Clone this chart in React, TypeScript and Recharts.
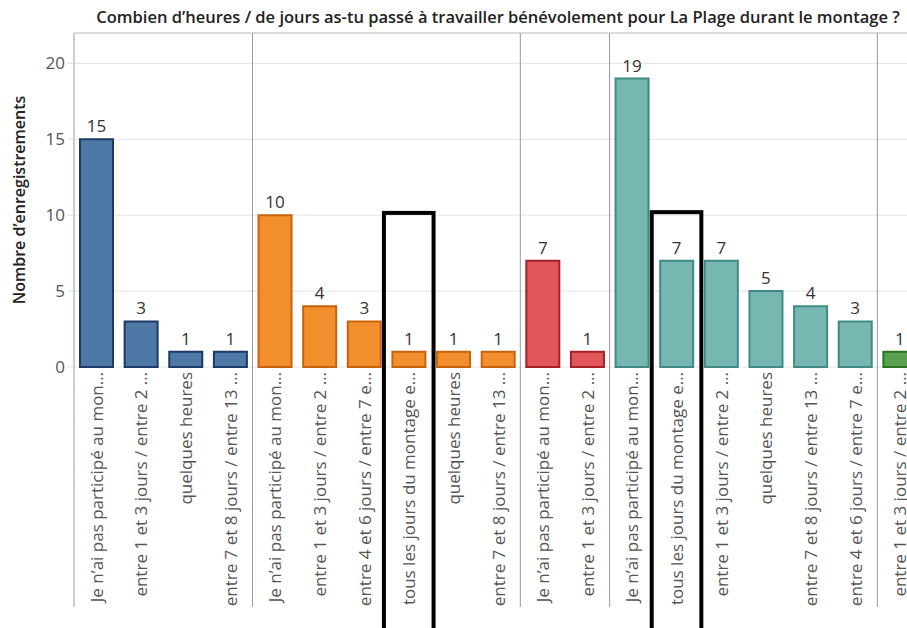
import React from 'react';
import {
  BarChart,
  Bar,
  XAxis,
  YAxis,
  CartesianGrid,
  Cell,
  LabelList,
  ReferenceLine,
  ReferenceArea,
} from 'recharts';

const FONT = "'Open Sans', 'DejaVu Sans', sans-serif";

const labels = [
  'Je n’ai pas participé au mon…',
  'entre 1 et 3 jours / entre 2 …',
  'quelques heures',
  'entre 7 et 8 jours / entre 13 …',
  'Je n’ai pas participé au mon…',
  'entre 1 et 3 jours / entre 2 …',
  'entre 4 et 6 jours / entre 7 e…',
  'tous les jours du montage e…',
  'quelques heures',
  'entre 7 et 8 jours / entre 13 …',
  'Je n’ai pas participé au mon…',
  'entre 1 et 3 jours / entre 2 …',
  'Je n’ai pas participé au mon…',
  'tous les jours du montage e…',
  'entre 1 et 3 jours / entre 2 …',
  'quelques heures',
  'entre 7 et 8 jours / entre 13 …',
  'entre 4 et 6 jours / entre 7 e…',
  'entre 1 et 3 jours / entre 2 …',
];

const values = [15, 3, 1, 1, 10, 4, 3, 1, 1, 1, 7, 1, 19, 7, 7, 5, 4, 3, 1];

const groups = [0, 0, 0, 0, 1, 1, 1, 1, 1, 1, 2, 2, 3, 3, 3, 3, 3, 3, 4];

const groupFills = ['#4e79a7', '#f28e2b', '#e15759', '#76b7b2', '#59a14f'];
const groupStrokes = ['#1d3a66', '#c8630d', '#a52029', '#3f8a84', '#2c7326'];

const yTicks = [0, 5, 10, 15, 20];

const highlightIdx = [7, 13];
const highlightTop = [10.15, 10.2];

const TITLE =
  'Combien d’heures / de jours as-tu passé à travailler bénévolement pour La Plage durant le montage ?';
const Y_LABEL = 'Nombre d’enregistrements';

const data = labels.map((label, i) => ({
  key: `c${i}`,
  label,
  value: values[i],
  group: groups[i],
}));

const groupStarts = data
  .filter((d, i) => i === 0 || groups[i] !== groups[i - 1])
  .map((d) => d.key);

const XTick = (props: any) => {
  const { x, y, payload } = props;
  const idx = Number(String(payload.value).slice(1));
  const text = labels[idx];
  return (
    <text
      x={x}
      y={y}
      transform={`rotate(-90 ${x} ${y})`}
      textAnchor="end"
      dominantBaseline="central"
      fontSize={17}
      fontFamily={FONT}
      fill="#555"
    >
      {text}
    </text>
  );
};

const SeparatorShape = (props: any) => {
  const { x1, y1, x2, y2 } = props;
  const top = Math.min(y1, y2);
  const bottom = Math.max(y1, y2) + 240;
  return <line x1={x1} x2={x2} y1={top} y2={bottom} stroke="#9a9a9a" strokeWidth={1} />;
};

const HighlightShape = (props: any) => {
  const { x, y, width, height } = props;
  return (
    <rect
      x={x - 2.5}
      y={y}
      width={width + 5}
      height={height}
      fill="none"
      stroke="#000"
      strokeWidth={4}
    />
  );
};

export default function App() {
  return (
    <div
      style={{
        position: 'absolute',
        left: 0,
        top: 0,
        width: 907,
        height: 628,
        overflow: 'hidden',
        background: '#fff',
      }}
    >
      <div
        style={{
          position: 'absolute',
          left: 0,
          top: 6,
          width: 996,
          textAlign: 'center',
          fontFamily: FONT,
          fontSize: 16.5,
          fontWeight: 600,
          color: '#222',
          lineHeight: '22px',
          whiteSpace: 'nowrap',
        }}
      >
        {TITLE}
      </div>
      <div style={{ position: 'absolute', left: 0, top: 0 }}>
        <BarChart
          width={922}
          height={628}
          data={data}
          margin={{ top: 33, right: 0, bottom: 0, left: 0 }}
        >
          <CartesianGrid vertical={false} stroke="#e4e4e4" />
          <XAxis
            dataKey="key"
            height={261}
            axisLine={false}
            tickLine={false}
            tickSize={0}
            tickMargin={5}
            interval={0}
            tick={<XTick />}
          />
          <YAxis
            width={74}
            domain={[0, 22]}
            ticks={yTicks}
            axisLine={false}
            tickLine={{ stroke: '#dddddd' }}
            tickSize={6}
            tickMargin={3}
            tick={{ fontSize: 17, fontFamily: FONT, fill: '#555' }}
            label={{
              content: (p: any) => {
                const vb = p.viewBox || { x: 0, y: 33, width: 74, height: 334 };
                const cx = vb.x + 19;
                const cy = vb.y + vb.height / 2;
                return (
                  <text
                    x={cx}
                    y={cy}
                    transform={`rotate(-90 ${cx} ${cy})`}
                    textAnchor="middle"
                    dominantBaseline="central"
                    fontSize={16}
                    fontWeight={600}
                    fontFamily={FONT}
                    fill="#222"
                  >
                    {Y_LABEL}
                  </text>
                );
              },
            }}
          />
          <ReferenceLine y={22} stroke="#c8c8c8" />
          {groupStarts.map((k) => (
            <ReferenceLine
              key={`sep-${k}`}
              x={k}
              position="start"
              stroke="#9a9a9a"
              shape={<SeparatorShape />}
            />
          ))}
          <Bar dataKey="value" barSize={33} isAnimationActive={false} strokeWidth={2}>
            {data.map((d, i) => (
              <Cell key={`cell-${i}`} fill={groupFills[d.group]} stroke={groupStrokes[d.group]} />
            ))}
            <LabelList
              dataKey="value"
              position="top"
              offset={7}
              fill="#333"
              fontSize={17}
              fontFamily={FONT}
            />
          </Bar>
          {highlightIdx.map((idx, j) => (
            <ReferenceArea
              key={`hl-${idx}`}
              x1={data[idx].key}
              x2={data[idx].key}
              y1={-18}
              y2={highlightTop[j]}
              ifOverflow="visible"
              shape={<HighlightShape />}
            />
          ))}
        </BarChart>
      </div>
    </div>
  );
}
